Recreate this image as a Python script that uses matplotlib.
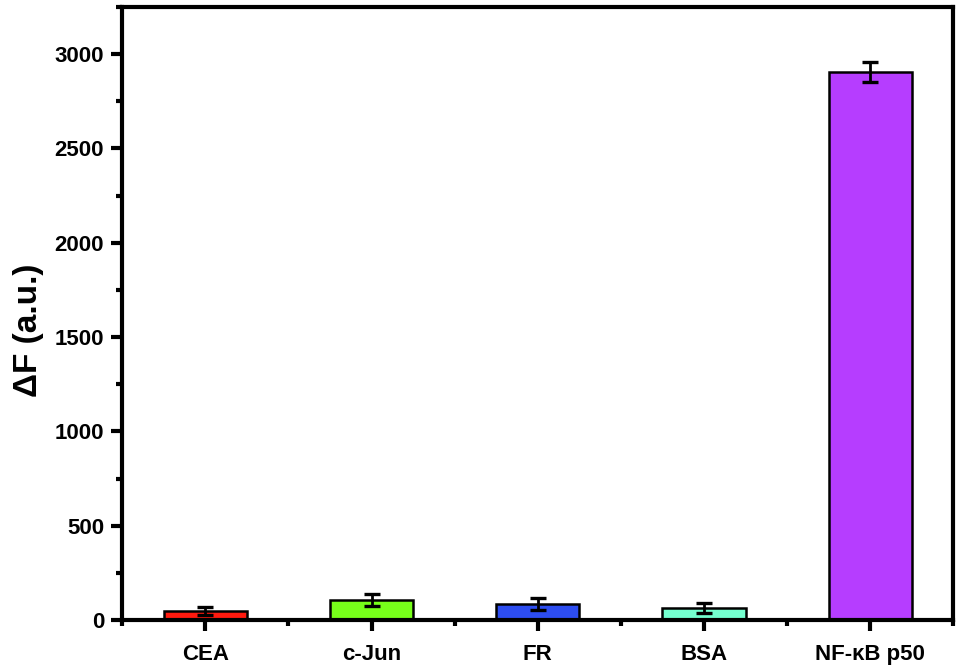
import numpy as np
import matplotlib
matplotlib.use("Agg")
import matplotlib.pyplot as plt
from matplotlib.ticker import MultipleLocator

plt.rcParams['font.family'] = ['Liberation Sans', 'DejaVu Sans']
plt.rcParams['font.weight'] = 'bold'

# data
categories = ['CEA', 'c-Jun', 'FR', 'BSA', 'NF-κB p50']
values = [48, 106, 85, 63, 2905]
errors = [22, 30, 30, 25, 55]
colors = ['#ff1a0f', '#77ff1a', '#2d4df0', '#74ffcf', '#b63dff']

fig = plt.figure(figsize=(9.62, 6.70), dpi=100)
ax = fig.add_axes([0.127, 0.0746, 0.864, 0.915])

x = np.arange(1, len(categories) + 1)
ax.bar(x, values, width=0.5, color=colors, edgecolor='black', linewidth=1.8, zorder=2)
ax.errorbar(x, values, yerr=errors, fmt='none', ecolor='black', elinewidth=2.0,
            capsize=6, capthick=2.4, zorder=3)

ax.set_xlim(0.5, 5.5)
ax.set_ylim(0, 3250)
ax.set_xticks(x)
ax.set_xticklabels(categories)
ax.set_xticks(np.arange(0.5, 6.0, 1.0), minor=True)
ax.yaxis.set_major_locator(MultipleLocator(500))
ax.yaxis.set_minor_locator(MultipleLocator(250))

for s in ax.spines.values():
    s.set_linewidth(3.0)
ax.tick_params(which='major', direction='out', length=8, width=3.0, labelsize=16, pad=5)
ax.tick_params(which='minor', direction='out', length=4, width=3.0)
ax.tick_params(axis='x', which='major', pad=9)
for lbl in ax.get_xticklabels() + ax.get_yticklabels():
    lbl.set_fontweight('bold')

ax.set_ylabel('ΔF (a.u.)', fontsize=24, fontweight='bold')
ax.yaxis.set_label_coords(-0.094, 0.473)

fig.savefig('out.png', dpi=100)
